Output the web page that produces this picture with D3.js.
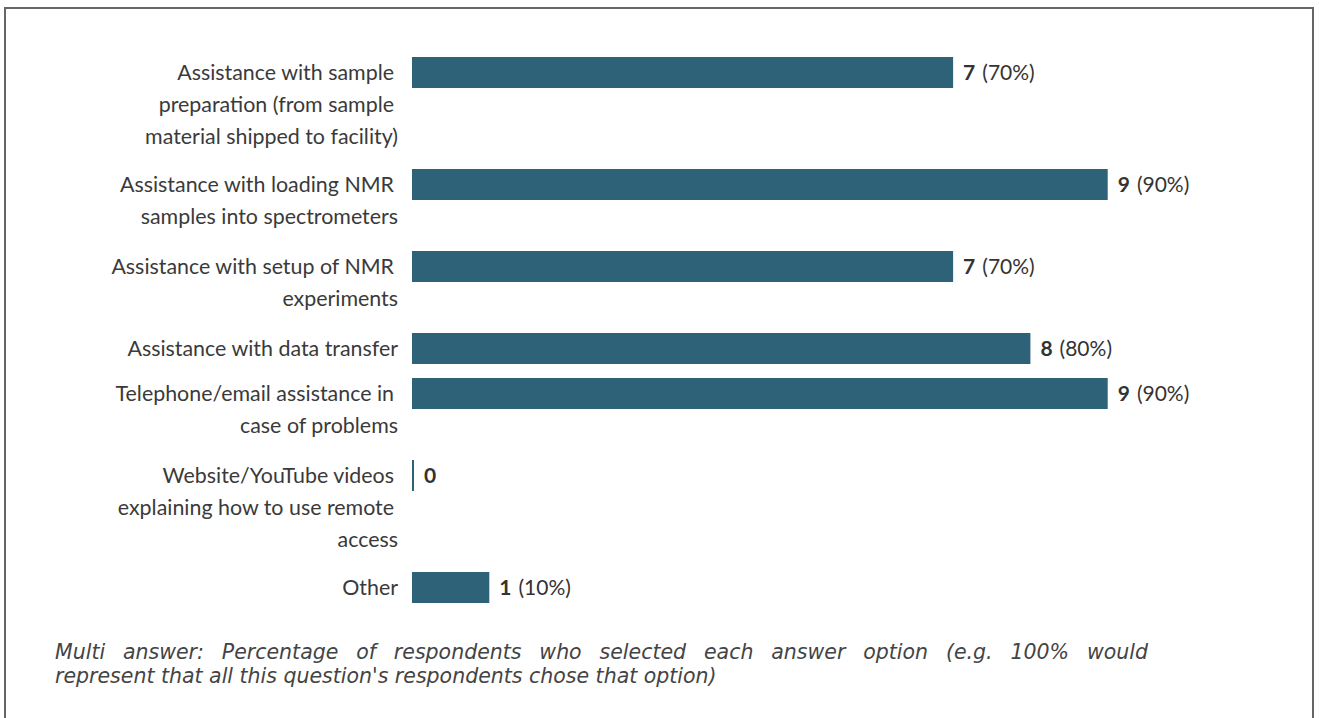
<!DOCTYPE html>
<html>
<head>
<meta charset="utf-8">
<script src="https://cdn.jsdelivr.net/npm/d3@7"></script>
<style>
  html, body { margin: 0; padding: 0; background: #fff; }
  svg { display: block; }
</style>
</head>
<body>
<div id="chart"></div>
<script>
// answer options, already wrapped as in the survey report
const categoryLines = [
  ['Assistance with sample', 'preparation (from sample', 'material shipped to facility)'],
  ['Assistance with loading NMR', 'samples into spectrometers'],
  ['Assistance with setup of NMR', 'experiments'],
  ['Assistance with data transfer'],
  ['Telephone/email assistance in', 'case of problems'],
  ['Website/YouTube videos', 'explaining how to use remote', 'access'],
  ['Other']
];
const counts = [7, 9, 7, 8, 9, 0, 1];
const percents = [70, 90, 70, 80, 90, 0, 10];
const respondents = 10;
const footnoteLines = [
  'Multi answer: Percentage of respondents who selected each answer option (e.g. 100% would',
  'represent that all this question\'s respondents chose that option)'
];

const W = 1319, H = 718;
const barLeft = 412, barRight = 1185;
const firstRowTop = 57, barH = 31, lineH = 32;
const labelRight = 398;
const noteLeft = 55, noteRight = 1148;

const svg = d3.select('#chart').append('svg')
  .attr('width', W)
  .attr('height', H);

// outer frame (bottom edge falls outside the picture)
svg.append('rect')
  .attr('x', 5).attr('y', 8)
  .attr('width', 1308).attr('height', 740)
  .attr('fill', 'none')
  .attr('stroke', '#666')
  .attr('stroke-width', 2);

// row height depends on how many lines the label wraps to
function rowHeight(n) {
  return n === 1 ? 45 : 30 * n + 22;
}
let tops = [];
let acc = firstRowTop;
categoryLines.forEach(function(lines) {
  tops.push(acc);
  acc += rowHeight(lines.length);
});

const keys = categoryLines.map(function(l) { return l.join(' '); });
const y = d3.scaleOrdinal().domain(keys).range(tops);
const x = d3.scaleLinear().domain([0, respondents]).range([barLeft, barRight]);

const rows = svg.append('g')
  .selectAll('g')
  .data(keys.map(function(k, i) {
    return {key: k, lines: categoryLines[i], count: counts[i], pct: percents[i]};
  }))
  .enter()
  .append('g');

rows.append('rect')
  .attr('x', x(0))
  .attr('y', function(d) { return y(d.key); })
  .attr('width', function(d) { return d.count === 0 ? 2 : x(d.count) - x(0); })
  .attr('height', barH)
  .attr('fill', '#2e6278');

// category labels, right aligned
rows.each(function(d) {
  const g = d3.select(this);
  d.lines.forEach(function(line, j) {
    g.append('text')
      .attr('x', labelRight - (j < d.lines.length - 1 ? 4 : 0))
      .attr('y', y(d.key) + barH / 2 + j * lineH)
      .attr('dy', '0.35em')
      .attr('text-anchor', 'end')
      .attr('font-family', 'Lato, sans-serif')
      .attr('font-size', 21.4)
      .attr('fill', '#3a3a3a')
      .text(line);
  });
});

// value labels
const vals = rows.append('text')
  .attr('x', function(d) { return (d.count === 0 ? x(0) + 2 : x(d.count)) + 10; })
  .attr('y', function(d) { return y(d.key) + barH / 2; })
  .attr('dy', '0.35em')
  .attr('font-family', 'Lato, sans-serif')
  .attr('font-size', 21)
  .attr('fill', '#333');
vals.append('tspan')
  .attr('font-weight', 'bold')
  .text(function(d) { return d.count; });
vals.filter(function(d) { return d.count > 0; })
  .append('tspan')
  .attr('dx', 7)
  .text(function(d) { return '(' + d.pct + '%)'; });

// footnote, justified like a paragraph (last line left natural)
svg.append('g')
  .selectAll('text')
  .data(footnoteLines)
  .enter()
  .append('text')
  .attr('x', noteLeft)
  .attr('y', function(d, i) { return 659 + i * 24; })
  .attr('font-family', 'DejaVu Sans, sans-serif')
  .attr('font-style', 'italic')
  .attr('font-size', 20.5)
  .attr('fill', '#444')
  .text(function(d) { return d; })
  .each(function(d, i) {
    if (i === footnoteLines.length - 1) return;
    const natural = this.getComputedTextLength();
    const spaces = d.split(' ').length - 1;
    d3.select(this).attr('word-spacing', (noteRight - noteLeft - natural) / spaces);
  });
</script>
</body>
</html>
